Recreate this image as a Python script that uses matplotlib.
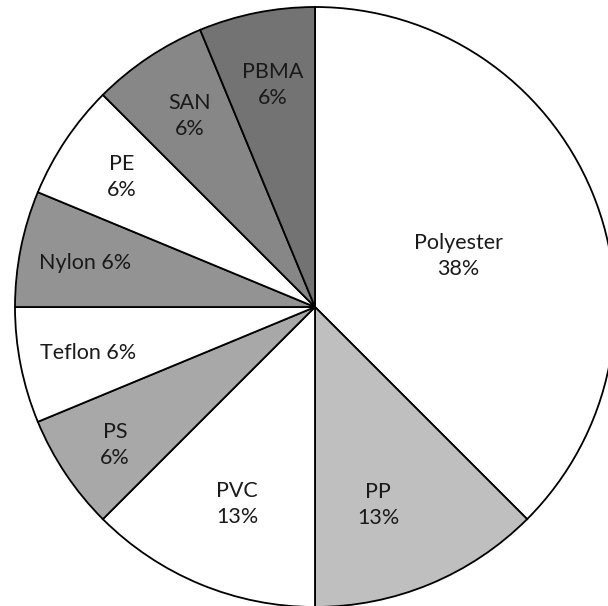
import numpy as np
import matplotlib.pyplot as plt

# polymer share, counted in sixteenths
labels = ["Polyester", "PP", "PVC", "PS", "Teflon", "Nylon", "PE", "SAN", "PBMA"]
counts = [6, 2, 2, 1, 1, 1, 1, 1, 1]
colors = ["#ffffff", "#bfbfbf", "#ffffff", "#a8a8a8", "#ffffff",
          "#939393", "#ffffff", "#878787", "#737373"]

# label placement (data coords, unit radius) and whether name/percent share a line
label_pos = [(0.477, 0.17), (0.21, -0.66), (-0.26, -0.657), (-0.667, -0.46),
             (-0.757, -0.153), (-0.767, 0.147), (-0.643, 0.433),
             (-0.417, 0.637), (-0.14, 0.74)]
one_line = [False, False, False, False, True, True, False, False, False]

plt.rcParams['font.family'] = ['Lato', 'DejaVu Sans']

fig = plt.figure(figsize=(6.08, 6.06), dpi=100)
ax = fig.add_axes([0, 0, 1, 1])

wedges, _ = ax.pie(counts, colors=colors, startangle=90, counterclock=False,
                   radius=1.0, center=(0, 0), frame=True,
                   wedgeprops=dict(edgecolor="black", linewidth=1.3))

total = float(sum(counts))
for name, c, (x, y), single in zip(labels, counts, label_pos, one_line):
    pct = "%d%%" % int(round(100 * c / total + 1e-9))
    txt = name + (" " if single else "\n") + pct
    ax.text(x, y, txt, ha="center", va="center", fontsize=15.5,
            color="#1a1a1a", linespacing=1.4)

ax.set_xlim(-315 / 300, 293 / 300)
ax.set_ylim(-299 / 300, 307 / 300)
ax.set_aspect("auto")
ax.axis("off")

fig.savefig("out.png", dpi=100, facecolor="white")
